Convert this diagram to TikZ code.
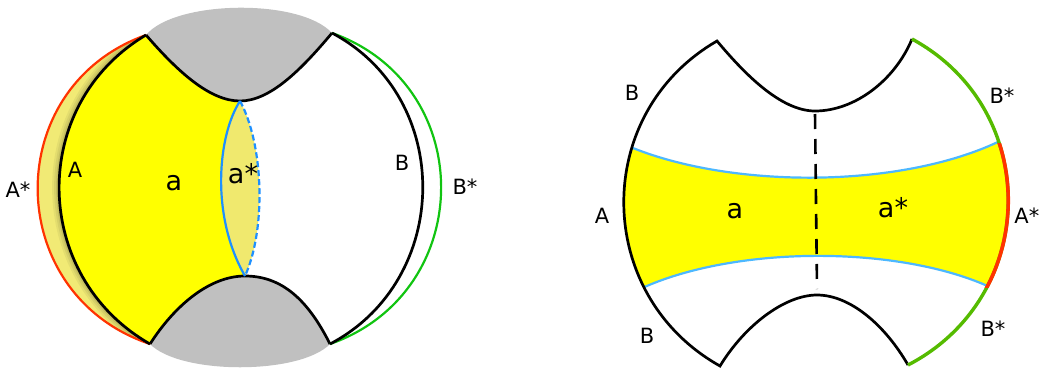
\documentclass[tikz,border=0pt]{standalone}
\usepackage{fontspec}
\setmainfont{DejaVu Sans}
\definecolor{gfill}{HTML}{C0C0C0}
\definecolor{yfill}{HTML}{FFFF00}
\definecolor{kfill}{HTML}{F0E96E}
\definecolor{bluel}{HTML}{1E90FF}
\definecolor{bluer}{HTML}{4DB8FF}
\definecolor{redl}{HTML}{FF3300}
\definecolor{greenl}{HTML}{11C411}
\definecolor{greenr}{HTML}{55BB00}
\tikzset{
  edge/.style={line width=2.7pt, line join=miter, draw=black},
  capl/.style={anchor=base, inner sep=0pt, font=\fontsize{21}{24}\selectfont},
  lowl/.style={anchor=base, inner sep=0pt, font=\fontsize{27}{30}\selectfont},
}
\begin{document}
\begin{tikzpicture}[x=1pt,y=-1pt]
\useasboundingbox (0,0) rectangle (1040,367);
% ---------- LEFT FIGURE ----------
% gray caps
\fill[gfill] (146,35) .. controls (175,0) and (300,-2) .. (332,33)
  .. controls (301,70) and (270,101) .. (240,101)
  .. controls (210,101) and (178,72) .. (146,35) -- cycle;
\fill[gfill] (150,344) .. controls (180,375) and (300,375) .. (330,344)
  .. controls (308,300) and (282,276) .. (245,276)
  .. controls (210,276) and (175,305) .. (150,344) -- cycle;
% A* region
\begin{scope}
\clip (146,35) .. controls (-0.6,87.5) and (2.4,294.6) .. (150,344)
  .. controls (31,276) and (28,105) .. (146,35) -- cycle;
\fill[kfill!95!white] (0,0) rectangle (300,367);
\foreach \w/\o in {14/0.05,10/0.06,6/0.08,3/0.10}{
  \draw[line width=\w pt, black, opacity=\o]
    (146,35) .. controls (28,105) and (31,276) .. (150,344);}
\end{scope}
% yellow region a
\fill[yfill] (146,35) .. controls (28,105) and (31,276) .. (150,344)
  .. controls (175,305) and (210,276) .. (245,276)
  .. controls (210,215) and (218,135) .. (240,101)
  .. controls (210,101) and (178,72) .. (146,35) -- cycle;
% lens a*
\fill[kfill] (240,101) .. controls (218,135) and (210,215) .. (245,276)
  .. controls (266,230) and (264,145) .. (240,101) -- cycle;
% outlines
\draw[edge] (146,35) .. controls (178,72) and (210,101) .. (240,101)
  .. controls (270,101) and (301,70) .. (332,33);
\draw[edge] (150,344) .. controls (175,305) and (210,276) .. (245,276)
  .. controls (282,276) and (308,300) .. (330,344);
\draw[redl, line width=2.2pt] (146,35) .. controls (-0.6,87.5) and (2.4,294.6) .. (150,344);
\draw[greenl, line width=2.2pt] (332,33) .. controls (478.7,85.2) and (476.9,292.5) .. (330,344);
\draw[edge] (146,35) .. controls (28,105) and (31,276) .. (150,344);
\draw[edge] (332,33) .. controls (454.3,97.7) and (452.4,279.7) .. (330,344);
\draw[bluel, line width=2.2pt] (240,101) .. controls (218,135) and (210,215) .. (245,276);
\draw[bluel, line width=2.2pt, dash pattern=on 6pt off 3pt] (240,101) .. controls (264,145) and (266,230) .. (245,276);
% labels
\node[capl] (lAs) at (18,197) {A*};
\node[capl] (lA) at (75,177) {A};
\node[lowl] (la) at (174,190) {a};
\node[lowl] (las) at (243,183) {a*};
\node[capl] (lB) at (402,170) {B};
\node[capl] (lBs) at (465,194) {B*};
% ---------- RIGHT FIGURE ----------
\def\outer{(717,41) .. controls (743,72) and (780,111) .. (815,111)
  .. controls (855,111) and (895,80) .. (912,39)
  .. controls (1042.3,109.8) and (1039.6,296.7) .. (908,365)
  .. controls (885,325) and (850,295) .. (817,295)
  .. controls (785,295) and (745,325) .. (720,366)
  .. controls (593.2,295) and (591.2,113.7) .. (717,41) -- cycle}
\begin{scope}
\clip \outer;
\fill[yfill] (628,146) .. controls (730,189) and (900,189) .. (1000,141)
  -- (1040,141) -- (1040,288) -- (992,288)
  .. controls (900,245) and (735,245) .. (640,289) -- (590,289) -- (590,146) -- cycle;
\draw[bluer, line width=2.2pt] (628,146) .. controls (730,189) and (900,189) .. (1000,141);
\draw[bluer, line width=2.2pt] (640,289) .. controls (735,245) and (900,245) .. (992,288);
\end{scope}
\draw[black, line width=2.6pt, dash pattern=on 15pt off 10pt] (815,114) -- (817,289);
\draw[edge] (912,39) .. controls (895,80) and (855,111) .. (815,111)
  .. controls (780,111) and (743,72) .. (717,41)
  .. controls (591.2,113.7) and (593.2,295) .. (720,366)
  .. controls (745,325) and (785,295) .. (817,295)
  .. controls (850,295) and (885,325) .. (908,365);
\draw[greenr, line width=3.4pt] (912,39) .. controls (1042.3,109.8) and (1039.6,296.7) .. (908,365);
\begin{scope}
\clip (950,143) rectangle (1040,287);
\draw[redl, line width=3.6pt] (912,39) .. controls (1042.3,109.8) and (1039.6,296.7) .. (908,365);
\end{scope}
% labels
\node[capl] (rB1) at (632,100) {B};
\node[capl] (rBs1) at (1002,103) {B*};
\node[capl] (rA) at (602,223) {A};
\node[lowl] (ra) at (735,218) {a};
\node[lowl] (ras) at (893,217) {a*};
\node[capl, anchor=base east] (rAs) at (1039.5,223) {A*};
\node[capl] (rB2) at (647,343) {B};
\node[capl] (rBs2) at (993,336) {B*};
\end{tikzpicture}
\end{document}
